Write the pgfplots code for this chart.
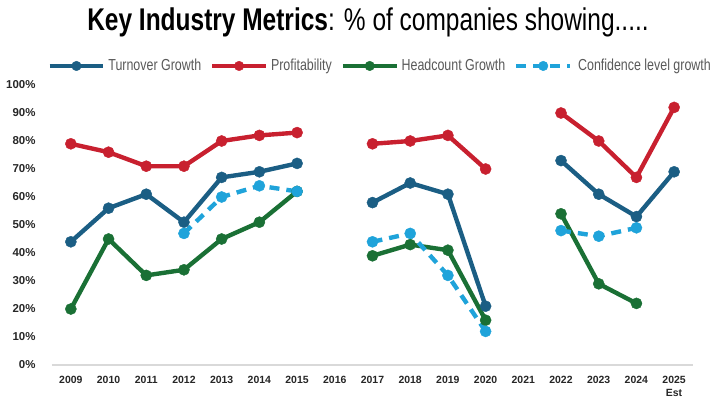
\documentclass[border=0pt]{standalone}
\usepackage{pgfplots}
\pgfplotsset{compat=1.18}
\usepackage{fontspec}
\setmainfont{Liberation Sans}
\newfontfamily\condfont[FakeStretch=0.78]{Liberation Sans}
\definecolor{cTurn}{HTML}{1B5E84}
\definecolor{cProf}{HTML}{C8202F}
\definecolor{cHead}{HTML}{1A7035}
\definecolor{cConf}{HTML}{1FA3DA}
\definecolor{cAxis}{HTML}{D9D9D9}
\definecolor{cLeg}{HTML}{595959}
\begin{document}
\begin{tikzpicture}
\useasboundingbox (-52bp,-37bp) rectangle (664bp,365bp);
\begin{axis}[
  scale only axis,
  width=641bp, height=280bp,
  xmin=2008.5, xmax=2025.5,
  ymin=0, ymax=100,
  axis x line*=bottom, axis y line=none,
  x axis line style={cAxis, line width=1.5pt, -},
  xtick={2009,...,2025},
  xticklabels={2009,2010,2011,2012,2013,2014,2015,2016,2017,2018,2019,2020,2021,2022,2023,2024,{2025\\[1.5pt]Est}},
  xticklabel style={font=\fontsize{10.5}{11.5}\selectfont\bfseries, text=black!85, align=center, anchor=north, yshift=-8bp},
  xtick style={draw=none},
  ytick={0,10,...,100},
  unbounded coords=jump,
  every axis plot/.append style={line width=4.4pt, mark=*, mark size=5.6pt},
  legend columns=4,
  legend style={draw=none, fill=none, at={(0.512,1.068)}, anchor=center,
    font=\condfont\fontsize{16}{17}\selectfont, text=cLeg,
    /tikz/every odd column/.append style={column sep=1bp},
    /tikz/every even column/.append style={column sep=7bp}},
  legend image code/.code={\draw[mark repeat=2,mark phase=2,#1, line width=4pt, mark size=4.8pt] plot coordinates {(0cm,0cm) (0.95cm,0cm) (1.9cm,0cm)};},
  clip=false,
]
\pgfplotsinvokeforeach{0,10,...,100}{
  \node[anchor=east, font=\fontsize{11.5}{12}\selectfont\bfseries, text=black!85] at (axis cs:2008.5,#1) [xshift=-13bp] {#1\%};
}
\addplot[color=cTurn, mark options={fill=cTurn, line width=0.4pt}] coordinates {
 (2009,44) (2010,56) (2011,61) (2012,51) (2013,67) (2014,69) (2015,72) (2016,nan)
 (2017,58) (2018,65) (2019,61) (2020,21) (2021,nan)
 (2022,73) (2023,61) (2024,53) (2025,69)};
\addlegendentry{Turnover Growth}
\addplot[color=cProf, mark options={fill=cProf, line width=0.4pt}] coordinates {
 (2009,79) (2010,76) (2011,71) (2012,71) (2013,80) (2014,82) (2015,83) (2016,nan)
 (2017,79) (2018,80) (2019,82) (2020,70) (2021,nan)
 (2022,90) (2023,80) (2024,67) (2025,92)};
\addlegendentry{Profitability}
\addplot[color=cHead, mark options={fill=cHead, line width=0.4pt}] coordinates {
 (2009,20) (2010,45) (2011,32) (2012,34) (2013,45) (2014,51) (2015,62) (2016,nan)
 (2017,39) (2018,43) (2019,41) (2020,16) (2021,nan)
 (2022,54) (2023,29) (2024,22)};
\addlegendentry{Headcount Growth}
\addplot[color=cConf, dash pattern=on 10bp off 7bp, mark options={fill=cConf, solid, line width=0.4pt}] coordinates {
 (2012,47) (2013,60) (2014,64) (2015,62) (2016,nan)
 (2017,44) (2018,47) (2019,32) (2020,12) (2021,nan)
 (2022,48) (2023,46) (2024,49)};
\addlegendentry{\hspace{3bp}Confidence level growth}
\node[anchor=center, font=\fontsize{31.5}{34}\selectfont] at (rel axis cs:0.493,1.222)
  {\condfont\bfseries Key Industry Metrics\mdseries: \% of companies showing.....};
\end{axis}
\end{tikzpicture}
\end{document}
